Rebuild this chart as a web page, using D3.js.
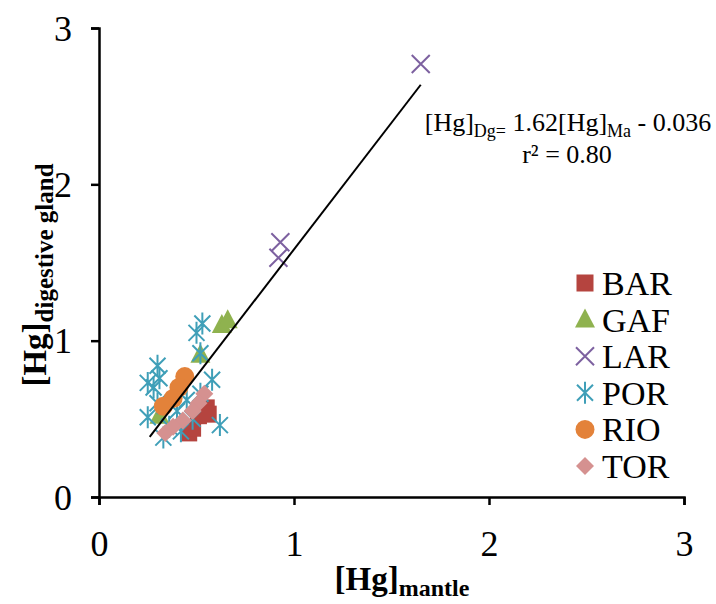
<!DOCTYPE html>
<html>
<head>
<meta charset="utf-8">
<script src="https://cdn.jsdelivr.net/npm/d3@7"></script>
</head>
<body style="margin:0">
<script>
// chart size and plot area
const width = 716;
const height = 604;
const margin = {left: 99, right: 32, top: 28, bottom: 107};
const serif = "Liberation Serif";

// series data: [Hg]mantle, [Hg]digestive gland
const barData = [[0.46, 0.41], [0.48, 0.44], [0.51, 0.52], [0.55, 0.57], [0.56, 0.53]];
const gafData = [[0.63, 1.10], [0.66, 1.13], [0.52, 0.91], [0.31, 0.52]];
const larData = [[1.65, 2.77], [0.93, 1.63], [0.92, 1.53]];
const porData = [[0.25, 0.73], [0.30, 0.84], [0.31, 0.76], [0.28, 0.70], [0.50, 1.05],
                 [0.53, 1.11], [0.52, 0.92], [0.58, 0.75], [0.62, 0.46], [0.25, 0.51],
                 [0.33, 0.38], [0.40, 0.55], [0.45, 0.62], [0.48, 0.50], [0.36, 0.45],
                 [0.42, 0.42], [0.30, 0.60], [0.52, 0.66]];
const rioData = [[0.44, 0.77], [0.41, 0.70], [0.38, 0.63], [0.33, 0.58]];
const torData = [[0.54, 0.66], [0.51, 0.60], [0.48, 0.55], [0.43, 0.49], [0.38, 0.45], [0.34, 0.41]];

const seriesNames = ["BAR", "GAF", "LAR", "POR", "RIO", "TOR"];
const seriesColors = ["#b5443f", "#8fb24f", "#7d61a0", "#3f9fb8", "#e3823a", "#d59190"];
const seriesShapes = ["square", "triangle", "x", "star", "circle", "diamond"];
const allData = [barData, gafData, larData, porData, rioData, torData];

const xTicks = [0, 1, 2, 3];
const yTicks = [0, 1, 2, 3];

// trend line: y = 1.62x - 0.036 over the data range
const slope = 1.62;
const intercept = -0.036;
const trendX = [0.26, 1.65];

const svg = d3.select("body")
  .append("svg")
  .attr("width", width)
  .attr("height", height);

const x = d3.scaleLinear().domain([0, 3]).range([margin.left, width - margin.right]);
const y = d3.scaleLinear().domain([0, 3]).range([height - margin.bottom, margin.top]);

// axes
const xAxis = svg.append("g")
  .attr("transform", `translate(0,${y(0)})`)
  .call(d3.axisBottom(x).tickValues(xTicks).tickFormat(d3.format("d")).tickSizeOuter(0).tickSize(8).tickPadding(25));
const yAxis = svg.append("g")
  .attr("transform", `translate(${x(0)},0)`)
  .call(d3.axisLeft(y).tickValues(yTicks).tickFormat(d3.format("d")).tickSizeOuter(0).tickSize(8).tickPadding(19));

[xAxis, yAxis].forEach(g => {
  g.attr("font-family", serif).attr("font-size", 36);
  g.select(".domain").attr("stroke", "#000").attr("stroke-width", 2.5);
  g.selectAll(".tick line").attr("stroke", "#000").attr("stroke-width", 2.5);
  g.selectAll(".tick text").attr("fill", "#000");
});
yAxis.selectAll(".tick text").attr("dy", "0.34em");

// marker shapes
function drawMarker(g, shape, color) {
  if (shape === "square") {
    g.append("rect").attr("x", -8.5).attr("y", -8.5).attr("width", 17).attr("height", 17).attr("fill", color);
  } else if (shape === "triangle") {
    g.append("path").attr("d", "M0,-11L10,8L-10,8Z").attr("fill", color);
  } else if (shape === "circle") {
    g.append("circle").attr("r", 9.5).attr("fill", color);
  } else if (shape === "diamond") {
    g.append("path").attr("d", "M0,-9L9,0L0,9L-9,0Z").attr("fill", color);
  } else if (shape === "x") {
    g.append("path").attr("d", "M-9,-9L9,9M-9,9L9,-9").attr("stroke", color).attr("stroke-width", 2).attr("fill", "none");
  } else if (shape === "star") {
    g.append("path").attr("d", "M-8,-8L8,8M-8,8L8,-8M0,-11L0,11").attr("stroke", color).attr("stroke-width", 2).attr("fill", "none");
  }
}

// points
allData.forEach((data, i) => {
  svg.append("g").selectAll("g")
    .data(data)
    .enter()
    .append("g")
    .attr("transform", d => `translate(${x(d[0])},${y(d[1])})`)
    .each(function() { drawMarker(d3.select(this), seriesShapes[i], seriesColors[i]); });
});

// trend line
svg.append("line")
  .attr("x1", x(trendX[0])).attr("y1", y(slope * trendX[0] + intercept))
  .attr("x2", x(trendX[1])).attr("y2", y(slope * trendX[1] + intercept))
  .attr("stroke", "#000").attr("stroke-width", 2);

// equation
const eq = svg.append("text").attr("x", 568).attr("y", 131).attr("text-anchor", "middle")
  .attr("font-family", serif).attr("font-size", 26);
eq.append("tspan").text("[Hg]");
eq.append("tspan").attr("font-size", 18).attr("dy", 6).text("Dg=");
eq.append("tspan").attr("dy", -6).text(" 1.62[Hg]");
eq.append("tspan").attr("font-size", 18).attr("dy", 6).text("Ma");
eq.append("tspan").attr("dy", -6).text(" - 0.036");
svg.append("text").attr("x", 567).attr("y", 163).attr("text-anchor", "middle")
  .attr("font-family", serif).attr("font-size", 26)
  .text("r² = 0.80");

// legend
const legend = svg.append("g").attr("transform", "translate(585,283)");
seriesNames.forEach((name, i) => {
  const row = legend.append("g").attr("transform", `translate(0,${i * 36.6})`);
  drawMarker(row, seriesShapes[i], seriesColors[i]);
  row.append("text").attr("x", 17).attr("y", 12).attr("font-family", serif).attr("font-size", 34).text(name);
});

// axis titles
const xt = svg.append("text").attr("x", 402).attr("y", 590).attr("text-anchor", "middle")
  .attr("font-family", serif).attr("font-weight", "bold").attr("font-size", 33);
xt.append("tspan").text("[Hg]");
xt.append("tspan").attr("font-size", 24).attr("dy", 6).text("mantle");

const yt = svg.append("text").attr("transform", "translate(46,275) rotate(-90)").attr("text-anchor", "middle")
  .attr("font-family", serif).attr("font-weight", "bold").attr("font-size", 33);
yt.append("tspan").text("[Hg]");
yt.append("tspan").attr("font-size", 25).attr("dy", 7).text("digestive  gland");
</script>
</body>
</html>
